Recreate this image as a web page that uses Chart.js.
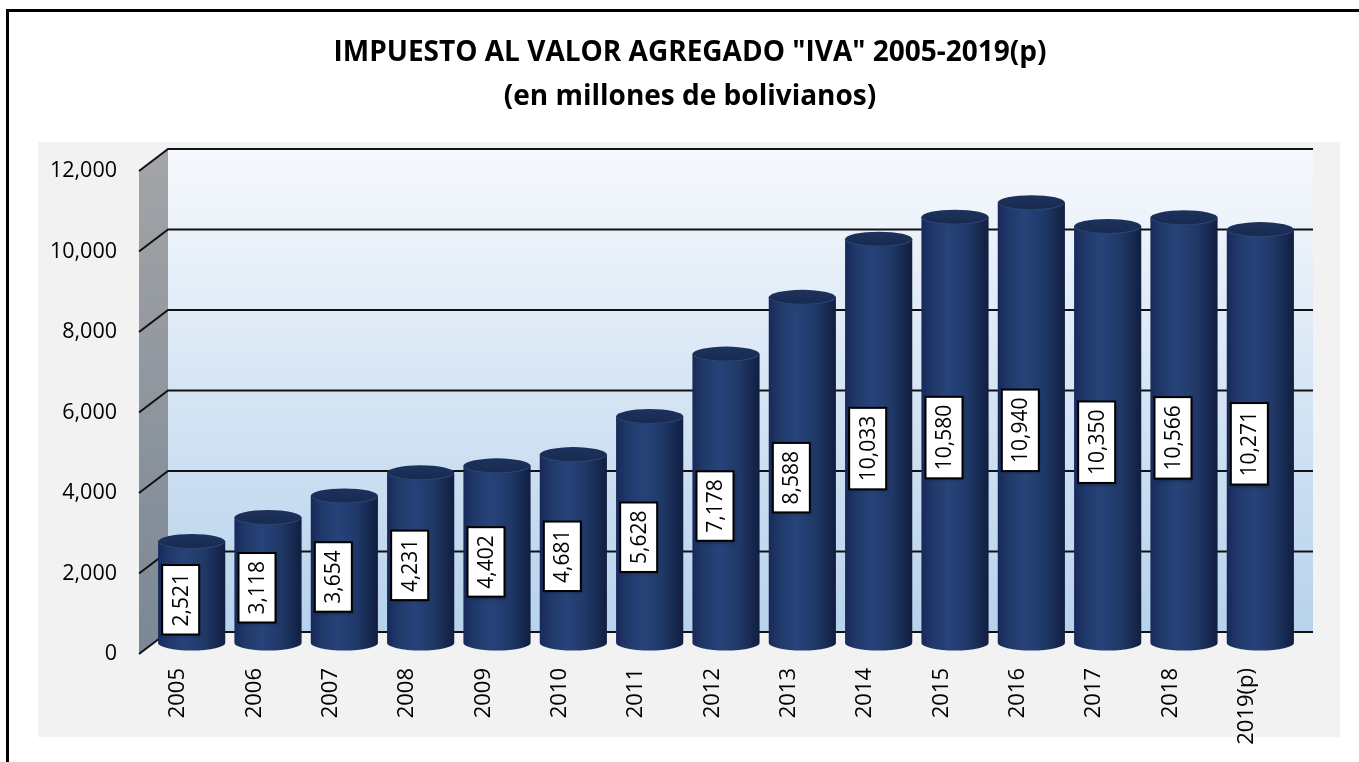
<!DOCTYPE html>
<html>
<head>
<meta charset="utf-8">
<script src="https://cdn.jsdelivr.net/npm/chart.js@4.4.1/dist/chart.umd.min.js"></script>
<style>
  html, body { margin: 0; padding: 0; background: #fff; overflow: hidden; }
  #frame { position: absolute; left: 6px; top: 9px; width: 1400px; height: 800px; border: 3px solid #000; }
  #plotbg { position: absolute; left: 38px; top: 142px; width: 1302px; height: 595px; background: #f2f2f2; }
  #wrap { position: absolute; left: 0; top: 0; width: 1359px; height: 762px; }
</style>
</head>
<body>
<div id="frame"></div>
<div id="plotbg"></div>
<div id="wrap"><canvas id="myChart" width="1359" height="762"></canvas></div>
<script>
// data
const years = ['2005', '2006', '2007', '2008', '2009', '2010', '2011', '2012', '2013', '2014', '2015', '2016', '2017', '2018', '2019(p)'];
const ivaValues = [2521, 3118, 3654, 4231, 4402, 4681, 5628, 7178, 8588, 10033, 10580, 10940, 10350, 10566, 10271];
const titleLines = ['IMPUESTO AL VALOR AGREGADO "IVA" 2005-2019(p)', '(en millones de bolivianos)'];
const yMin = 0;
const yMax = 12000;
const yStep = 2000;

// fake depth of the 3d look: back wall sits up/right, front axis down/left
const DX = 14.5;
const DY = 11;
const FONT = "'Open Sans', 'Liberation Sans', sans-serif";

const fmt = v => v.toLocaleString('en-US');

// cylinder body shading (horizontal)
const bodyGradient = (ctx, x0, x1) => {
  const g = ctx.createLinearGradient(x0, 0, x1, 0);
  g.addColorStop(0, '#17295a');
  g.addColorStop(0.15, '#1f3868');
  g.addColorStop(0.4, '#26437a');
  g.addColorStop(0.7, '#1f3866');
  g.addColorStop(1, '#111e40');
  return g;
};

const barHalfWidth = (chart) => chart.scales.x.width / years.length * 0.88 / 2;

// back wall, side wall and gridlines
const wallsPlugin = {
  id: 'walls',
  beforeDatasetsDraw(chart) {
    const { ctx, chartArea, scales } = chart;
    const L = chartArea.left, R = chartArea.right;
    const yTop = scales.y.getPixelForValue(yMax);
    const yBot = scales.y.getPixelForValue(yMin);
    ctx.save();

    // back wall
    const wg = ctx.createLinearGradient(0, yTop - DY, 0, yBot - DY);
    wg.addColorStop(0, '#f6f9fd');
    wg.addColorStop(0.5, '#d6e5f4');
    wg.addColorStop(1, '#b7d2ec');
    ctx.fillStyle = wg;
    ctx.fillRect(L + DX, yTop - DY, R - L, yBot - yTop);

    // side wall
    const sg = ctx.createLinearGradient(0, yTop, 0, yBot);
    sg.addColorStop(0, '#a2a4a7');
    sg.addColorStop(1, '#7b8895');
    ctx.fillStyle = sg;
    ctx.beginPath();
    ctx.moveTo(L - DX, yTop + DY);
    ctx.lineTo(L + DX, yTop - DY);
    ctx.lineTo(L + DX, yBot - DY);
    ctx.lineTo(L - DX, yBot + DY);
    ctx.closePath();
    ctx.fill();

    // gridlines
    ctx.strokeStyle = '#111';
    ctx.lineWidth = 2;
    for (let v = yMin; v <= yMax; v += yStep) {
      const y = scales.y.getPixelForValue(v);
      ctx.beginPath();
      ctx.moveTo(L - DX, y + DY);
      ctx.lineTo(L + DX, y - DY);
      ctx.lineTo(R + DX, y - DY);
      ctx.stroke();
    }
    ctx.restore();
  }
};

// cylinder caps and value boxes
const cylinderPlugin = {
  id: 'cylinders',
  afterDatasetsDraw(chart) {
    const { ctx } = chart;
    const meta = chart.getDatasetMeta(0);
    const rx = barHalfWidth(chart);
    const ry = 7.5;
    ctx.save();
    meta.data.forEach((bar, i) => {
      const x0 = bar.x - rx, x1 = bar.x + rx;
      // bottom half ellipse
      ctx.fillStyle = bodyGradient(ctx, x0, x1);
      ctx.beginPath();
      ctx.ellipse(bar.x, bar.base, rx, ry, 0, 0, Math.PI);
      ctx.fill();
      // top cap
      const tg = ctx.createLinearGradient(0, bar.y - ry, 0, bar.y + ry);
      tg.addColorStop(0, '#1d325c');
      tg.addColorStop(1, '#172a50');
      ctx.fillStyle = tg;
      ctx.beginPath();
      ctx.ellipse(bar.x, bar.y, rx, ry, 0, 0, Math.PI * 2);
      ctx.fill();
      ctx.strokeStyle = 'rgba(60,90,140,0.6)';
      ctx.lineWidth = 1;
      ctx.beginPath();
      ctx.ellipse(bar.x, bar.y, rx - 0.5, ry - 0.5, 0, 0.1, Math.PI - 0.1);
      ctx.stroke();
    });

    // value labels, rotated
    ctx.font = '21px ' + FONT;
    ctx.textAlign = 'center';
    ctx.textBaseline = 'middle';
    meta.data.forEach((bar, i) => {
      const txt = fmt(ivaValues[i]);
      const tw = ctx.measureText(txt).width;
      const bw = tw + 16, bh = 37;
      const cx = bar.x - 11, cy = (bar.y + bar.base) / 2 + 7.5;
      ctx.save();
      ctx.translate(cx, cy);
      ctx.rotate(-Math.PI / 2);
      ctx.shadowColor = 'rgba(0,0,0,0.35)';
      ctx.shadowBlur = 3;
      ctx.shadowOffsetX = 1;
      ctx.shadowOffsetY = 2;
      ctx.fillStyle = '#fff';
      ctx.fillRect(-bw / 2, -bh / 2, bw, bh);
      ctx.shadowColor = 'transparent';
      ctx.strokeStyle = '#000';
      ctx.lineWidth = 2;
      ctx.strokeRect(-bw / 2, -bh / 2, bw, bh);
      ctx.fillStyle = '#000';
      ctx.fillText(txt, 0, 1);
      ctx.restore();
    });
    ctx.restore();
  }
};

const ctx = document.getElementById('myChart').getContext('2d');

new Chart(ctx, {
  type: 'bar',
  data: {
    labels: years,
    datasets: [
      {
        label: 'IVA',
        data: ivaValues,
        backgroundColor: (c) => {
          const chart = c.chart;
          if (!chart.chartArea || c.type !== 'data') return '#1f3864';
          const x = chart.scales.x.getPixelForValue(c.dataIndex);
          const rx = barHalfWidth(chart);
          return bodyGradient(chart.ctx, x - rx, x + rx);
        },
        borderWidth: 0,
        barPercentage: 0.88,
        categoryPercentage: 1.0,
      }
    ],
  },
  options: {
    responsive: false,
    animation: false,
    devicePixelRatio: 1,
    layout: {
      padding: { left: 21, right: 0, top: 0, bottom: 0 },
    },
    plugins: {
      legend: { display: false },
      tooltip: { enabled: false },
      title: {
        display: true,
        text: titleLines,
        color: '#000',
        font: { family: FONT, size: 28, weight: 'bold', lineHeight: 44 / 28 },
        padding: { top: 31, bottom: 41 },
      },
    },
    scales: {
      x: {
        grid: { display: false, drawTicks: false },
        border: { display: false },
        ticks: {
          color: '#000',
          font: { family: FONT, size: 22 },
          minRotation: 90,
          maxRotation: 90,
          padding: 25,
          labelOffset: -DX + 1,
        },
        afterFit: (scale) => { scale.height = 119; },
      },
      y: {
        min: yMin,
        max: yMax,
        grid: { display: false, drawTicks: false },
        border: { display: false },
        ticks: {
          stepSize: yStep,
          color: '#000',
          font: { family: FONT, size: 21.5 },
          padding: 36.5,
          labelOffset: DY,
          callback: (v) => fmt(v),
        },
        afterFit: (scale) => { scale.width = 132.5; },
      },
      // empty right axis that only reserves the gap right of the plot
      yRight: {
        position: 'right',
        display: true,
        grid: { display: false, drawTicks: false },
        border: { display: false },
        ticks: { display: false },
        afterFit: (scale) => { scale.width = 60.5; },
      },
    },
  },
  plugins: [wallsPlugin, cylinderPlugin],
});
</script>
</body>
</html>
